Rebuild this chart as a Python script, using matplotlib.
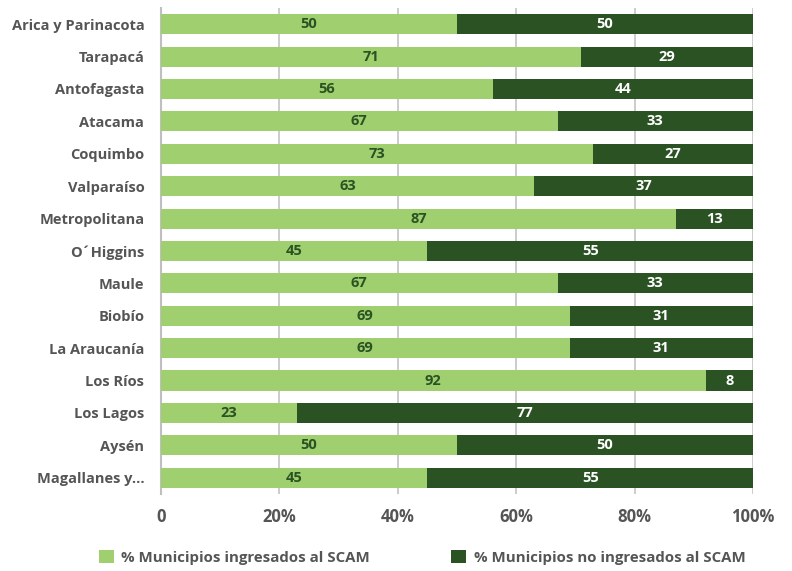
import matplotlib
matplotlib.use("Agg")
import matplotlib.pyplot as plt
import numpy as np

regions = ["Arica y Parinacota", "Tarapacá", "Antofagasta", "Atacama", "Coquimbo",
           "Valparaíso", "Metropolitana", "O´Higgins", "Maule", "Biobío",
           "La Araucanía", "Los Ríos", "Los Lagos", "Aysén", "Magallanes y..."]
ingresados = [50, 71, 56, 67, 73, 63, 87, 45, 67, 69, 69, 92, 23, 50, 45]
no_ingresados = [50, 29, 44, 33, 27, 37, 13, 55, 33, 31, 31, 8, 77, 50, 55]
series_names = ["% Municipios ingresados al SCAM", "% Municipios no ingresados al SCAM"]
xticks = [0, 20, 40, 60, 80, 100]
xticklabels = ["0", "20%", "40%", "60%", "80%", "100%"]

light = "#9fcf6f"
dark = "#2a5223"
gray = "#555555"
font = "Open Sans"

fig = plt.figure(figsize=(7.92, 5.71), dpi=100)
ax = fig.add_axes([0.2033, 0.135, 0.9508 - 0.2033, 0.986 - 0.135])

y = np.arange(len(regions))
h = 0.62
b1 = ax.barh(y, ingresados, height=h, color=light, label=series_names[0], zorder=3)
b2 = ax.barh(y, no_ingresados, left=ingresados, height=h, color=dark, label=series_names[1], zorder=3)

for i in range(len(regions)):
    ax.text(ingresados[i] / 2, y[i], str(ingresados[i]), ha="center", va="center",
            color=dark, fontsize=10.5, fontweight="bold", family=font, zorder=4)
    ax.text(ingresados[i] + no_ingresados[i] / 2, y[i], str(no_ingresados[i]), ha="center", va="center",
            color="white", fontsize=10.5, fontweight="bold", family=font, zorder=4)

ax.set_xlim(0, 100)
ax.set_ylim(len(regions) - 0.5, -0.5)
ax.set_yticks(y)
ax.set_yticklabels(regions, fontsize=10.5, fontweight="bold", color=gray, family=font)
ax.set_xticks(xticks)
ax.set_xticklabels(xticklabels, fontsize=12, fontweight="bold", color=gray, family=font)
ax.tick_params(axis="y", length=0, pad=12)
ax.tick_params(axis="x", length=0, pad=10)
ax.grid(axis="x", color="#c8c8c8", linewidth=1.3, zorder=0)
for s in ["top", "right", "bottom"]:
    ax.spines[s].set_visible(False)
ax.spines["left"].set_color("#bfbfbf")
ax.spines["left"].set_linewidth(1.5)

leg = fig.legend(handles=[b1, b2], labels=series_names, loc="center", bbox_to_anchor=(0.533, 0.024),
                 ncol=2, frameon=False, handlelength=1.0, handleheight=1.0, columnspacing=5.4,
                 handletextpad=0.5, prop={"family": font, "weight": "bold", "size": 10.8})
for t in leg.get_texts():
    t.set_color(gray)

fig.savefig("out.png", dpi=100)
